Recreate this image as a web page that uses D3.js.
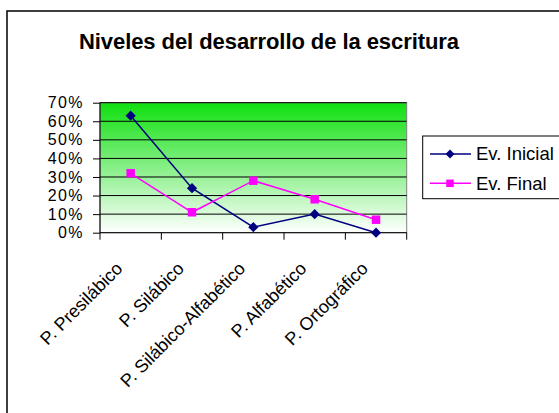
<!DOCTYPE html>
<html>
<head>
<meta charset="utf-8">
<script src="https://d3js.org/d3.v7.min.js"></script>
<style>
  body { margin: 0; background: #fff; }
  text { font-family: Arial, "Liberation Sans", sans-serif; }
</style>
</head>
<body>
<div id="chart"></div>
<script>
var categories = ["P. Presilábico", "P. Silábico", "P. Silábico-Alfabético", "P. Alfabético", "P. Ortográfico"];
var inicial = [0.63, 0.24, 0.03, 0.10, 0.00];
var final = [0.32, 0.11, 0.28, 0.18, 0.07];
var yTicks = [0, 0.1, 0.2, 0.3, 0.4, 0.5, 0.6, 0.7];
var seriesNames = ["Ev. Inicial", "Ev. Final"];

var W = 559, H = 413;
var plot = {l: 100, r: 406.7, t: 102.7, b: 232.7};

var svg = d3.select("#chart").append("svg")
    .attr("width", W).attr("height", H);

// outer chart frame (runs off the right/bottom edge like the original)
svg.append("rect")
    .attr("x", 7).attr("y", 11).attr("width", 620).attr("height", 500)
    .attr("fill", "#fff").attr("stroke", "#000").attr("stroke-width", 1.5);

svg.append("text")
    .attr("x", 269).attr("y", 49)
    .attr("text-anchor", "middle")
    .attr("font-size", 22).attr("font-weight", "bold")
    .attr("textLength", 380).attr("lengthAdjust", "spacing")
    .text("Niveles del desarrollo de la escritura");

var defs = svg.append("defs");
var grad = defs.append("linearGradient").attr("id", "bg")
    .attr("x1", 0).attr("y1", 0).attr("x2", 0).attr("y2", 1);
grad.append("stop").attr("offset", "0%").attr("stop-color", "#0fe00f");
grad.append("stop").attr("offset", "100%").attr("stop-color", "#ffffff");

var x = d3.scaleBand().domain(categories).range([plot.l, plot.r]);
var y = d3.scaleLinear().domain([0, 0.7]).range([plot.b, plot.t]);

svg.append("rect")
    .attr("x", plot.l).attr("y", plot.t)
    .attr("width", plot.r - plot.l).attr("height", plot.b - plot.t)
    .attr("fill", "url(#bg)").attr("stroke", "#808080").attr("stroke-width", 1);

// gridlines
svg.append("g").selectAll("line")
    .data(yTicks.slice(1))
    .enter().append("line")
    .attr("x1", plot.l).attr("x2", plot.r)
    .attr("y1", function (d) { return y(d); })
    .attr("y2", function (d) { return y(d); })
    .attr("stroke", "#000").attr("stroke-width", 1);

// y axis
var yAxis = svg.append("g")
    .attr("transform", "translate(" + plot.l + ",0)")
    .call(d3.axisLeft(y).tickValues(yTicks).tickSize(7).tickPadding(9)
        .tickFormat(d3.format(".0%")));
yAxis.selectAll("text").attr("font-size", 16).attr("fill", "#000")
    .attr("letter-spacing", 1.4)
    .attr("font-family", "Arial, 'Liberation Sans', sans-serif");
yAxis.selectAll("line, path").attr("stroke", "#000");
yAxis.select("path").attr("d", "M0," + plot.t + "V" + plot.b);

// x axis with ticks between categories
var xg = svg.append("g");
xg.append("line")
    .attr("x1", plot.l).attr("x2", plot.r)
    .attr("y1", plot.b).attr("y2", plot.b)
    .attr("stroke", "#000");
var bounds = categories.map(function (c) { return x(c); }).concat([plot.r]);
xg.selectAll(".tk")
    .data(bounds)
    .enter().append("line")
    .attr("x1", function (d) { return d; })
    .attr("x2", function (d) { return d; })
    .attr("y1", plot.b).attr("y2", plot.b + 7)
    .attr("stroke", "#000");
xg.selectAll(".lbl")
    .data(categories)
    .enter().append("text")
    .attr("font-size", 18)
    .attr("text-anchor", "end")
    .attr("transform", function (d) {
        var cx = x(d) + x.bandwidth() / 2;
        return "translate(" + (cx - 7) + "," + (plot.b + 37) + ") rotate(-45)";
    })
    .text(function (d) { return d; });

function diamond(sel, s) {
    sel.append("path")
        .attr("d", d3.symbol().type(d3.symbolSquare).size(s)())
        .attr("transform", "rotate(45)");
}

function addSeries(data, color, marker) {
    var pts = data.map(function (v, i) {
        return {x: x(categories[i]) + x.bandwidth() / 2, y: y(v)};
    });
    svg.append("path")
        .datum(pts)
        .attr("fill", "none").attr("stroke", color).attr("stroke-width", 1.5)
        .attr("d", d3.line().x(function (d) { return d.x; }).y(function (d) { return d.y; }));
    var g = svg.append("g").selectAll("g")
        .data(pts)
        .enter().append("g")
        .attr("transform", function (d) { return "translate(" + d.x + "," + d.y + ")"; })
        .attr("fill", color);
    if (marker == "diamond") diamond(g, 52);
    else g.append("path").attr("d", d3.symbol().type(d3.symbolSquare).size(72)());
}

addSeries(inicial, "#000080", "diamond");
addSeries(final, "#ff00ff", "square");

// legend
var leg = svg.append("g");
leg.append("rect")
    .attr("x", 422.7).attr("y", 136).attr("width", 200).attr("height", 62.7)
    .attr("fill", "#fff").attr("stroke", "#000").attr("stroke-width", 1);
var legColors = ["#000080", "#ff00ff"];
var rows = leg.selectAll(".row")
    .data(seriesNames)
    .enter().append("g")
    .attr("transform", function (d, i) { return "translate(0," + (154 + i * 29.3) + ")"; });
rows.append("line")
    .attr("x1", 430).attr("x2", 471)
    .attr("stroke", function (d, i) { return legColors[i]; })
    .attr("stroke-width", 1.5);
rows.each(function (d, i) {
    var m = d3.select(this).append("g")
        .attr("transform", "translate(450,0)")
        .attr("fill", legColors[i]);
    if (i == 0) diamond(m, 40);
    else m.append("path").attr("d", d3.symbol().type(d3.symbolSquare).size(56)());
});
rows.append("text")
    .attr("x", 476).attr("dy", "0.35em")
    .attr("font-size", 18.5)
    .text(function (d) { return d; });
</script>
</body>
</html>
